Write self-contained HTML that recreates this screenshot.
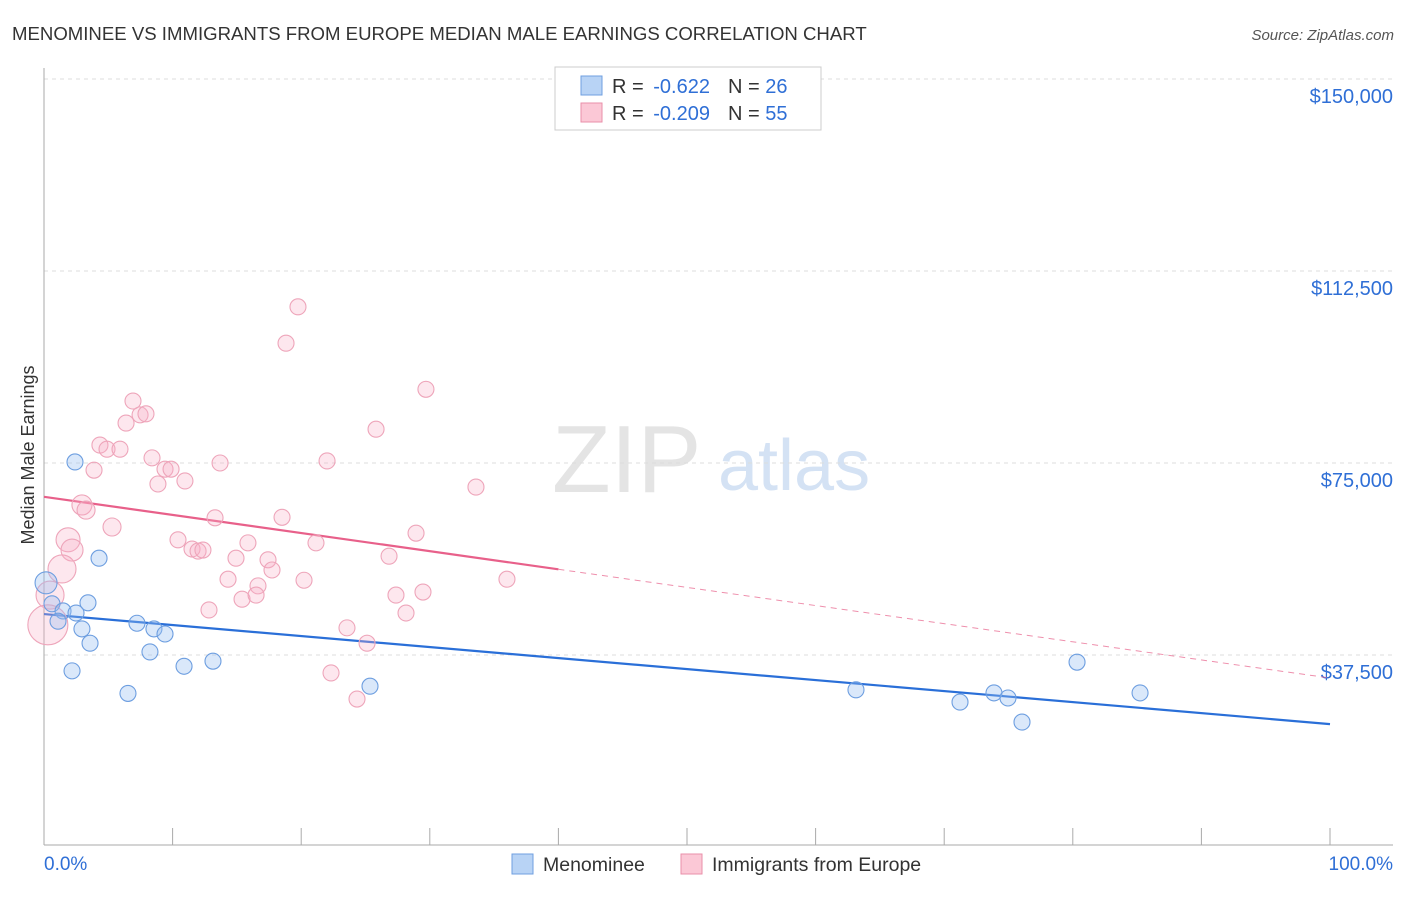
<!DOCTYPE html>
<html><head><meta charset="utf-8">
<style>
body{margin:0;background:#fff;font-family:"Liberation Sans",sans-serif;}
svg text{font-family:"Liberation Sans",sans-serif;}
</style></head>
<body>
<svg id="c" width="1406" height="892" xmlns="http://www.w3.org/2000/svg">
<text x="12" y="40" font-size="18.6" fill="#333">MENOMINEE VS IMMIGRANTS FROM EUROPE MEDIAN MALE EARNINGS CORRELATION CHART</text>
<text x="1394" y="40" font-size="15" fill="#555" font-style="italic" text-anchor="end">Source: ZipAtlas.com</text>
<text x="34" y="455" font-size="18" fill="#333" text-anchor="middle" transform="rotate(-90 34 455)">Median Male Earnings</text>
<text x="552" y="492" font-size="96" fill="#e4e4e4" font-family="Liberation Serif">ZIP</text>
<text x="718" y="490" font-size="72" fill="#d4e2f4">atlas</text>
<g id="grid"></g>
<g id="axes"></g>
<g id="lines"></g>
<g id="pts"></g>
<g>
<rect x="555" y="67" width="266" height="63" fill="#fff" stroke="#ccc"/>
<rect x="581" y="76" width="21" height="19" fill="#b8d3f5" stroke="#6f9fe0"/>
<rect x="581" y="103" width="21" height="19" fill="#fbc8d6" stroke="#ea8fa9"/>
<text x="612" y="93" font-size="20" fill="#333">R = <tspan dx="4" fill="#2f6fd6">-0.622</tspan><tspan dx="18">N = </tspan><tspan fill="#2f6fd6">26</tspan></text>
<text x="612" y="120" font-size="20" fill="#333">R = <tspan dx="4" fill="#2f6fd6">-0.209</tspan><tspan dx="18">N = </tspan><tspan fill="#2f6fd6">55</tspan></text>
</g>
<g>
<rect x="512" y="854" width="21" height="20" fill="#b8d3f5" stroke="#6f9fe0"/>
<text x="543" y="871" font-size="19.5" fill="#333">Menominee</text>
<rect x="681" y="854" width="21" height="20" fill="#fbc8d6" stroke="#ea8fa9"/>
<text x="712" y="871" font-size="19.5" fill="#333">Immigrants from Europe</text>
</g>
</svg>
<script>
const yTicks=[150000,112500,75000,37500];
const yTickLabels=["$150,000","$112,500","$75,000","$37,500"];
const xTickLabels=["0.0%","100.0%"];
const blueX=[2.41,4.28,0.16,0.62,1.48,3.42,2.49,1.09,2.95,7.23,8.55,9.41,3.58,8.24,2.18,10.89,13.14,6.53,25.35,63.14,71.23,73.87,74.96,76.05,80.33,85.23];
const blueY=[75.2,56.4,51.6,47.5,46.1,47.7,45.7,44.1,42.6,43.7,42.6,41.6,39.8,38.1,34.4,35.3,36.3,30.0,31.4,30.7,28.3,30.1,29.1,24.4,36.1,30.1];
const blueR=[8,8,11,8,8,8,8,8,8,8,8,8,8,8,8,8,8,8,8,8,8,8,8,8,8,8];
const pinkX=[19.75,18.82,29.70,25.82,6.92,7.47,7.93,6.38,4.35,4.90,5.91,8.40,9.41,9.88,13.69,3.89,8.86,10.96,22.01,33.59,2.95,3.27,5.29,13.30,18.51,28.93,10.42,15.86,21.15,11.51,11.98,12.36,1.87,2.18,14.93,26.83,1.40,17.42,17.73,14.31,20.22,16.64,15.40,16.49,27.37,29.47,36.00,12.83,28.15,23.56,25.12,22.32,24.34,0.47,0.3];
const pinkY=[105.5,98.4,89.4,81.6,87.1,84.4,84.6,82.8,78.5,77.7,77.7,76.0,73.8,73.8,75.0,73.6,70.9,71.5,75.4,70.3,66.8,65.8,62.5,64.3,64.4,61.3,60.0,59.4,59.4,58.2,57.8,58.0,60.0,58.0,56.4,56.8,54.3,56.1,54.1,52.3,52.1,51.0,48.4,49.2,49.2,49.8,52.3,46.3,45.7,42.8,39.8,34.0,28.9,49.2,43.4];
const pinkR=[8,8,8,8,8,8,8,8,8,8,8,8,8,8,8,8,8,8,8,8,10,9,9,8,8,8,8,8,8,8,8,8,12,11,8,8,14,8,8,8,8,8,8,8,8,8,8,8,8,8,8,8,8,14,20];
const blueTrend=[45.5,24.0];
const pinkTrend=[68.4,33.0];
const pinkSolidEnd=40;
const NS="http://www.w3.org/2000/svg";
const xs=v=>44+v*12.86;
const ys=v=>847-v*5.12;
function mk(t,a,p){const e=document.createElementNS(NS,t);for(const k in a)e.setAttribute(k,a[k]);p.appendChild(e);return e;}
const grid=document.getElementById('grid'),axes=document.getElementById('axes'),lines=document.getElementById('lines'),pts=document.getElementById('pts');
yTicks.forEach((t,i)=>{
 const y=ys(t/1000);
 const g=mk('line',{x1:44,x2:1393,y1:y,y2:y,stroke:'#ddd','stroke-dasharray':'4,4'},grid);
 
 
 const tx=mk('text',{x:1393,y:y+24,'font-size':20,fill:'#2f6fd6','text-anchor':'end'},axes);
 tx.textContent=yTickLabels[i];
 
 
});
const ax=mk('line',{x1:44,x2:44,y1:68,y2:845,stroke:'#aaa'},axes);


const bx=mk('line',{x1:44,x2:1393,y1:845,y2:845,stroke:'#aaa'},axes);


for(let i=0;i<=10;i++){
 const x=xs(i*10);
 const tk=mk('line',{x1:x,x2:x,y1:828,y2:845,stroke:'#aaa'},axes);
 
 
}
const xl0=mk('text',{x:44,y:870,'font-size':19,fill:'#2f6fd6'},axes);xl0.textContent=xTickLabels[0];


const xl1=mk('text',{x:1393,y:870,'font-size':19,fill:'#2f6fd6','text-anchor':'end'},axes);xl1.textContent=xTickLabels[1];


const bl=mk('line',{x1:xs(0),y1:ys(blueTrend[0]),x2:xs(100),y2:ys(blueTrend[1]),stroke:'#2a6fd8','stroke-width':2.2},lines);


const pAt=x=>pinkTrend[0]+(pinkTrend[1]-pinkTrend[0])*x/100;
const pl=mk('line',{x1:xs(0),y1:ys(pAt(0)),x2:xs(pinkSolidEnd),y2:ys(pAt(pinkSolidEnd)),stroke:'#e8608a','stroke-width':2.2},lines);


const pd=mk('line',{x1:xs(pinkSolidEnd),y1:ys(pAt(pinkSolidEnd)),x2:xs(100),y2:ys(pAt(100)),stroke:'#e8608a','stroke-width':1,'stroke-dasharray':'6,5',opacity:0.7},lines);


pinkX.forEach((x,i)=>{
 const c=mk('circle',{cx:xs(x),cy:ys(pinkY[i]),r:pinkR[i],fill:'rgba(248,175,198,0.3)',stroke:'#eea5ba','stroke-width':1.1},pts);
 
 
});
blueX.forEach((x,i)=>{
 const c=mk('circle',{cx:xs(x),cy:ys(blueY[i]),r:blueR[i],fill:'rgba(150,190,240,0.35)',stroke:'#6d9ee0','stroke-width':1.1},pts);
 
 
});
</script>
</body></html>
